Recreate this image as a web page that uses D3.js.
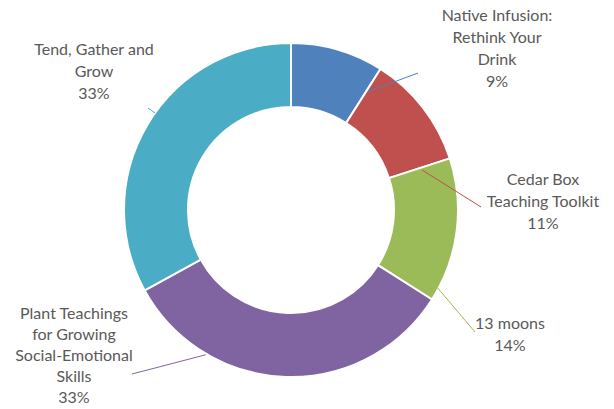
<!DOCTYPE html>
<html>
<head>
  <meta charset="UTF-8">
  <title>donut</title>
  <style>
    body { margin: 0; background: #fff; }
    svg { display: block; }
    .lbl { font-family: Lato, "Open Sans", sans-serif; font-size: 16px; fill: #595959; }
  </style>
</head>
<body>
  <div class="svg-zone"></div>
  <script src="https://cdn.jsdelivr.net/npm/d3@7"></script>
  <script>
  // slices, clockwise from 12 o'clock
  var categories = ["Native Infusion: Rethink Your Drink", "Cedar Box Teaching Toolkit", "13 moons",
    "Plant Teachings for Growing Social-Emotional Skills", "Tend, Gather and Grow"];
  var values = [9, 11, 14, 33, 33];
  var labelLines = [
    ["Native Infusion:", "Rethink Your", "Drink"],
    ["Cedar Box", "Teaching Toolkit"],
    ["13 moons"],
    ["Plant Teachings", "for Growing", "Social-Emotional", "Skills"],
    ["Tend, Gather and", "Grow"]
  ];
  var colors = ["#4f81bd", "#c0504d", "#9bbb59", "#8064a2", "#4bacc6"];

  var width = 614, height = 409,
    cx = 291, cy = 210,
    outerR = 167, innerR = 103;

  // label layout: centre x, first baseline y, line step, leader start (deg, radius), leader end
  var labelPos = [
    { x: 497, y: 21, h: 22, a: 33, r: 141, ex: 418, ey: 73 },
    { x: 543, y: 185, h: 22, a: 73, r: 137, ex: 481, ey: 207 },
    { x: 510, y: 329, h: 22, a: 118, r: 166, ex: 475, ey: 332 },
    { x: 74, y: 319, h: 21, a: 210.5, r: 168, ex: 132, ey: 374 },
    { x: 94, y: 55, h: 22, a: 305.5, r: 167, ex: 148, ey: 108 }
  ];

  var svg = d3.select(".svg-zone").append("svg")
    .attr("width", width)
    .attr("height", height);

  var total = d3.sum(values);
  var pie = d3.pie().sort(null).value(function (d) { return d; });
  var arc = d3.arc().innerRadius(innerR).outerRadius(outerR);
  var arcs = pie(values);

  var g = svg.append("g").attr("transform", "translate(" + cx + "," + cy + ")");

  g.selectAll("path.slice")
    .data(arcs)
    .enter().append("path")
    .attr("class", "slice")
    .attr("d", arc)
    .attr("fill", function (d, i) { return colors[i]; })
    .attr("stroke", "#fff")
    .attr("stroke-width", 2);

  // leader lines
  svg.selectAll("line.leader")
    .data(arcs)
    .enter().append("line")
    .attr("class", "leader")
    .attr("x1", function (d, i) { var p = labelPos[i]; return cx + p.r * Math.sin(p.a * Math.PI / 180); })
    .attr("y1", function (d, i) { var p = labelPos[i]; return cy - p.r * Math.cos(p.a * Math.PI / 180); })
    .attr("x2", function (d, i) { return labelPos[i].ex; })
    .attr("y2", function (d, i) { return labelPos[i].ey; })
    .attr("stroke", function (d, i) { return colors[i]; })
    .attr("stroke-width", 1);

  // labels
  var lbl = svg.selectAll("text.lbl")
    .data(arcs)
    .enter().append("text")
    .attr("class", "lbl")
    .attr("text-anchor", "middle");

  lbl.each(function (d, i) {
    var t = d3.select(this);
    var p = labelPos[i];
    var lines = labelLines[i].concat([Math.round(d.data / total * 100) + "%"]);
    lines.forEach(function (s, k) {
      t.append("tspan")
        .attr("x", p.x)
        .attr("y", p.y + k * p.h)
        .text(s);
    });
  });
  </script>
</body>
</html>
